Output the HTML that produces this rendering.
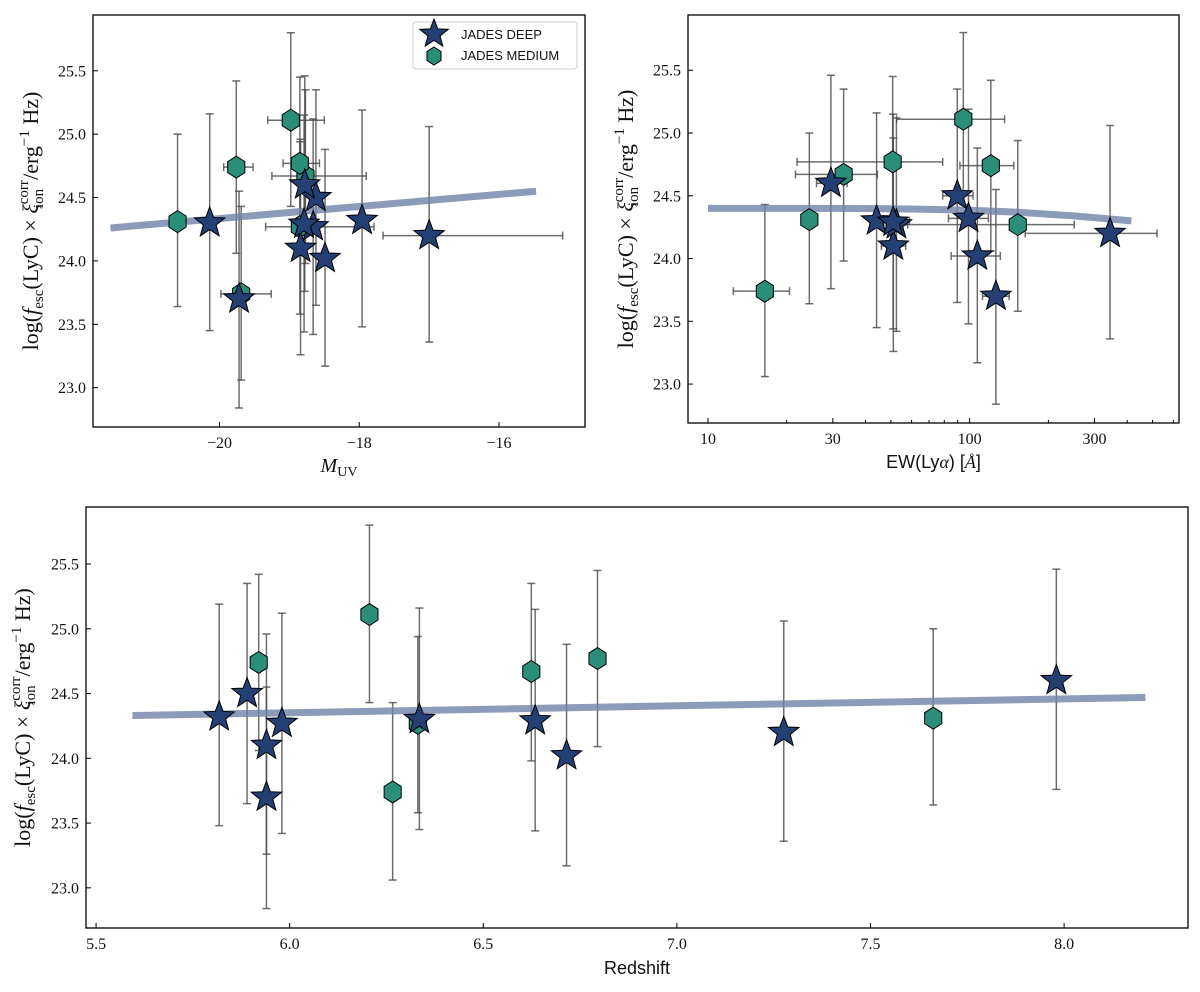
<!DOCTYPE html>
<html><head><meta charset="utf-8">
<style>
body{margin:0;background:#fff;}
svg{display:block;}
.tick{font-family:"Liberation Serif",serif;font-size:16px;fill:#111;}
.lab{font-family:"Liberation Serif",serif;font-size:18px;fill:#111;}
.ylab{font-family:"Liberation Serif",serif;font-size:22px;fill:#111;}
.sans{font-family:"Liberation Sans",sans-serif;fill:#111;}
</style></head>
<body>
<svg id="fig" width="1200" height="992" viewBox="0 0 1200 992" xmlns="http://www.w3.org/2000/svg"></svg>
<script>
// ---- data ----
const starY   = [24.32,24.50,24.10,23.70,24.27,24.30,24.29,24.02,24.20,24.60];
const starYhi = [25.19,25.35,24.96,24.55,25.12,25.16,25.15,24.88,25.06,25.46];
const starYlo = [23.48,23.65,23.26,22.84,23.42,23.45,23.44,23.17,23.36,23.76];
const starMUV   = [-17.96,-18.62,-18.84,-19.72,-18.66,-20.14,-18.79,-18.49,-17.0,-18.78];
const starMUVlo = [null,null,null,null,null,null,null,null,-17.66,null];
const starMUVhi = [null,null,null,null,null,null,null,null,-15.09,null];
const starEW   = [99,89.7,51.1,126,52.5,44.1,51,107,344,29.5];
const starEWlo = [83,78.9,46,112,48,41.6,47,85,163,26];
const starEWhi = [118,103,57,141.6,58,58.9,56,131,520,34];
const starZ = [5.818,5.89,5.94,5.94,5.98,6.335,6.634,6.715,7.276,7.98];

const hexY   = [24.74,25.11,23.74,24.27,24.67,24.77,24.31];
const hexYhi = [25.42,25.80,24.43,24.94,25.35,25.45,25.00];
const hexYlo = [24.06,24.43,23.06,23.58,23.98,24.09,23.64];
const hexMUV   = [-19.76,-18.98,-19.69,-18.85,-18.77,-18.85,-20.6];
const hexMUVlo = [-19.94,-19.31,-19.98,-19.34,-19.25,-19.09,null];
const hexMUVhi = [-19.52,-18.50,-19.26,-17.79,-17.90,-18.57,null];
const hexEW   = [120.5,94.6,16.5,152.7,33.0,50.8,24.4];
const hexEWlo = [91.8,52.6,12.5,50.8,21.6,21.9,null];
const hexEWhi = [147.5,136,20.5,251,44.4,78.9,null];
const hexZ = [5.92,6.206,6.266,6.331,6.624,6.795,7.662];

const fitMUVx = [-21.56,-15.47];
const fitMUVy = [24.26,24.55];
const fitEWx = [10,30,60,100,150,250,415];
const fitEWy = [24.40,24.40,24.395,24.385,24.37,24.34,24.30];
const fitZx = [5.594,8.21];
const fitZy = [24.33,24.47];

const yTicks = [23.0,23.5,24.0,24.5,25.0,25.5];
const muvTicks = [-20,-18,-16];
const ewTicks = [10,30,100,300];
const ewMinor = [20,40,50,60,70,80,90,200,400,500,600];
const zTicks = [5.5,6.0,6.5,7.0,7.5,8.0];

// ---- drawing ----
const NS="http://www.w3.org/2000/svg";
const svg=document.getElementById('fig');
function el(tag,attrs,parent){const e=document.createElementNS(NS,tag);for(const k in attrs)e.setAttribute(k,attrs[k]);(parent||svg).appendChild(e);return e;}
const ylim=[22.69,25.94];

function makePanel(name,x0,x1,y0,y1,xlim,log){
  const g=el('g',{});
  
  
  const tx=v=>{const a=log?Math.log10(v):v;const l0=log?Math.log10(xlim[0]):xlim[0];const l1=log?Math.log10(xlim[1]):xlim[1];return x0+(a-l0)/(l1-l0)*(x1-x0);};
  const ty=v=>y1-(v-ylim[0])/(ylim[1]-ylim[0])*(y1-y0);
  return {g,tx,ty,x0,x1,y0,y1};
}
function errbars(p,xs,ys,ylo,yhi,xlo,xhi,nm){
  for(let i=0;i<xs.length;i++){
    const x=p.tx(xs[i]),y=p.ty(ys[i]);
    const eb=el('g',{stroke:'#4a4a4a','stroke-opacity':'0.8','stroke-width':'1.5',fill:'none'},p.g);
    
    
    const a=p.ty(yhi[i]),b=p.ty(ylo[i]);
    el('line',{x1:x,x2:x,y1:a,y2:b},eb);
    el('line',{x1:x-4,x2:x+4,y1:a,y2:a},eb);
    el('line',{x1:x-4,x2:x+4,y1:b,y2:b},eb);
    if(xlo&&xlo[i]!=null){
      const c=p.tx(xlo[i]),d=p.tx(xhi[i]);
      el('line',{x1:c,x2:d,y1:y,y2:y},eb);
      el('line',{x1:c,x2:c,y1:y-4,y2:y+4},eb);
      el('line',{x1:d,x2:d,y1:y-4,y2:y+4},eb);
    }
  }
}
function starPath(cx,cy,R){let s='';const r=R*0.42;for(let k=0;k<10;k++){const rr=k%2?r:R;const an=-Math.PI/2+k*Math.PI/5;s+=(k?'L':'M')+(cx+rr*Math.cos(an)).toFixed(2)+','+(cy+rr*Math.sin(an)).toFixed(2);}return s+'Z';}
function hexPath(cx,cy,R){let s='';for(let k=0;k<6;k++){const an=-Math.PI/2+k*Math.PI/3;s+=(k?'L':'M')+(cx+R*0.9*Math.cos(an)).toFixed(2)+','+(cy+R*Math.sin(an)).toFixed(2);}return s+'Z';}
function stars(p,xs,ys){for(let i=0;i<xs.length;i++){const s=el('path',{d:starPath(p.tx(xs[i]),p.ty(ys[i]),16),fill:'#243f73',stroke:'#000','stroke-width':'1'},p.g);}}
function hexes(p,xs,ys){for(let i=0;i<xs.length;i++){const s=el('path',{d:hexPath(p.tx(xs[i]),p.ty(ys[i]),11),fill:'#2a8e78',stroke:'#000','stroke-width':'1'},p.g);}}
function fit(p,xs,ys){let d='';for(let i=0;i<xs.length;i++)d+=(i?'L':'M')+p.tx(xs[i]).toFixed(2)+','+p.ty(ys[i]).toFixed(2);const l=el('path',{d:d,stroke:'#6f82a8','stroke-opacity':'0.8','stroke-width':'7',fill:'none'},p.g);}
function frame(p,xt,xlabels,minor){
  const f=el('rect',{x:p.x0,y:p.y0,width:p.x1-p.x0,height:p.y1-p.y0,fill:'none',stroke:'#000','stroke-width':'1.3'},p.g);
  
  yTicks.forEach(v=>{const y=p.ty(v);el('line',{x1:p.x0,x2:p.x0+5,y1:y,y2:y,stroke:'#000'},p.g);
    const t=el('text',{x:p.x0-7,y:y+5.5,'text-anchor':'end',class:'tick'},p.g);t.textContent=v.toFixed(1);
    });
  xt.forEach((v,i)=>{const x=p.tx(v);el('line',{x1:x,x2:x,y1:p.y1,y2:p.y1-5,stroke:'#000'},p.g);
    const t=el('text',{x:x,y:p.y1+21,'text-anchor':'middle',class:'tick'},p.g);t.textContent=xlabels[i];
    });
  (minor||[]).forEach(v=>{const x=p.tx(v);el('line',{x1:x,x2:x,y1:p.y1,y2:p.y1-3,stroke:'#000'},p.g);});
}
function ylabel(p,cx){
  const cy=(p.y0+p.y1)/2;
  const t=el('text',{x:0,y:0,'text-anchor':'middle',class:'ylab',transform:`translate(${cx},${cy}) rotate(-90)`},p.g);
  
  t.innerHTML='log(<tspan font-style="italic">f</tspan><tspan font-size="15" dy="5">esc</tspan><tspan dy="-5">(LyC) × </tspan><tspan font-style="italic">ξ</tspan><tspan font-size="15" dy="-10">corr</tspan><tspan font-size="15" dx="-28" dy="15">ion</tspan><tspan dx="9" dy="-5">/erg</tspan><tspan font-size="15" dy="-9">−1</tspan><tspan dy="9"> Hz)</tspan>';
}
function xlabel(p,html,y){const t=el('text',{x:(p.x0+p.x1)/2,y:y,'text-anchor':'middle',class:'lab'},p.g);t.innerHTML=html;}

// Panel 1
const p1=makePanel('muv-panel',93,585,15,427,[-21.81,-14.77],false);
errbars(p1,hexMUV,hexY,hexYlo,hexYhi,hexMUVlo,hexMUVhi,'medium');
errbars(p1,starMUV,starY,starYlo,starYhi,starMUVlo,starMUVhi,'deep');
fit(p1,fitMUVx,fitMUVy);
hexes(p1,hexMUV,hexY);stars(p1,starMUV,starY);
frame(p1,muvTicks,muvTicks.map(v=>'−'+Math.abs(v)));
ylabel(p1,38);
xlabel(p1,'<tspan font-style="italic" font-size="20">M</tspan><tspan font-size="14" dy="4">UV</tspan>',472);
// legend
const lg=el('g',{},p1.g);
el('rect',{x:413,y:22,width:164,height:47,rx:3,fill:'#fff',stroke:'#ccc'},lg);
el('path',{d:starPath(434,34,15),fill:'#243f73',stroke:'#000'},lg);
el('path',{d:hexPath(434,56,9),fill:'#2a8e78',stroke:'#000'},lg);
let lt=el('text',{x:461,y:39,class:'sans','font-size':'13'},lg);lt.textContent='JADES DEEP';
lt=el('text',{x:461,y:60,class:'sans','font-size':'13'},lg);lt.textContent='JADES MEDIUM';

// Panel 2
const p2=makePanel('ew-panel',688,1179,15,423,[8.39,631],true);
errbars(p2,hexEW,hexY,hexYlo,hexYhi,hexEWlo,hexEWhi,'medium');
errbars(p2,starEW,starY,starYlo,starYhi,starEWlo,starEWhi,'deep');
fit(p2,fitEWx,fitEWy);
hexes(p2,hexEW,hexY);stars(p2,starEW,starY);
frame(p2,ewTicks,ewTicks.map(String),ewMinor);
ylabel(p2,633);
xlabel(p2,'<tspan font-family="Liberation Sans">EW(Ly</tspan><tspan font-style="italic">α</tspan><tspan font-family="Liberation Sans">) [</tspan><tspan font-style="italic">Å</tspan><tspan font-family="Liberation Sans">]</tspan>',468);

// Panel 3
const p3=makePanel('redshift-panel',86,1188,507,928,[5.474,8.32],false);
errbars(p3,hexZ,hexY,hexYlo,hexYhi,null,null,'medium');
errbars(p3,starZ,starY,starYlo,starYhi,null,null,'deep');
fit(p3,fitZx,fitZy);
hexes(p3,hexZ,hexY);stars(p3,starZ,starY);
frame(p3,zTicks,zTicks.map(v=>v.toFixed(1)));
ylabel(p3,30);
xlabel(p3,'<tspan font-family="Liberation Sans">Redshift</tspan>',974);
</script>
</body></html>
